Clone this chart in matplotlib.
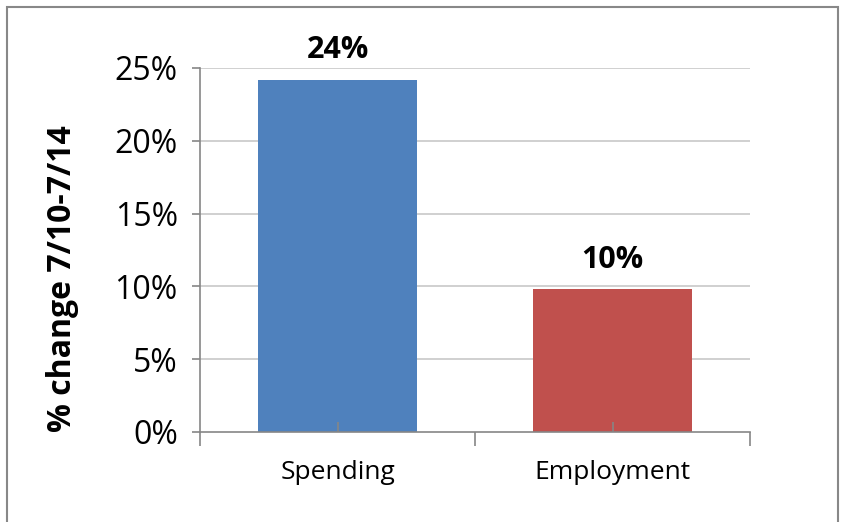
import matplotlib.pyplot as plt
from matplotlib.patches import Rectangle
from matplotlib.ticker import FuncFormatter

categories = ['Spending', 'Employment']
values = [24.2, 9.8]
labels = ['24%', '10%']
colors = ['#4f81bd', '#c0504d']
yticks = [0, 5, 10, 15, 20, 25]

plt.rcParams['font.family'] = ['Open Sans', 'DejaVu Sans']

fig = plt.figure(figsize=(8.43, 5.22), dpi=100)
ax = fig.add_axes([200 / 843, 90 / 522, 550 / 843, 364 / 522])

x = list(range(len(categories)))
ax.bar(x, values, width=0.575, color=colors, zorder=2)
for xi, v, lab in zip(x, values, labels):
    ax.text(xi, v + 1.0, lab, ha='center', va='bottom', fontsize=22, fontweight='bold')

ax.set_xlim(-0.5, 1.5)
ax.set_ylim(0, 25)
ax.set_yticks(yticks)
ax.yaxis.set_major_formatter(FuncFormatter(lambda v, p: f'{v:.0f}%'))
# gridlines behind the bars, ticks drawn above them
for t in yticks[1:]:
    ax.axhline(t, color='#d0d0d0', linewidth=1.4, zorder=0.5)
ax.set_axisbelow(False)

# boundaries get outward ticks, category centres get short inward ticks
ax.set_xticks([-0.5, 0.5, 1.5])
ax.set_xticklabels([])
ax.set_xticks(x, minor=True)
ax.set_xticklabels(categories, minor=True, fontsize=19)
ax.tick_params(axis='x', which='major', direction='out', length=10, width=1.2, color='#868686')
ax.tick_params(axis='x', which='minor', direction='in', length=7, width=1.2, color='#868686', pad=20)
ax.tick_params(axis='y', direction='out', length=6, width=1.2, color='#868686', labelsize=23, pad=10)

for side in ['top', 'right']:
    ax.spines[side].set_visible(False)
for side in ['left', 'bottom']:
    ax.spines[side].set_color('#868686')
    ax.spines[side].set_linewidth(1.2)

ax.set_ylabel('% change 7/10-7/14', fontsize=23, fontweight='bold')
ax.yaxis.set_label_coords(-0.22, 0.42)

fig.patches.append(Rectangle((7 / 843, -0.05), 831 / 843, 1.05 - 7 / 522,
                             transform=fig.transFigure, fill=False,
                             edgecolor='#888888', linewidth=1.5))

fig.savefig('out.png', dpi=100)
